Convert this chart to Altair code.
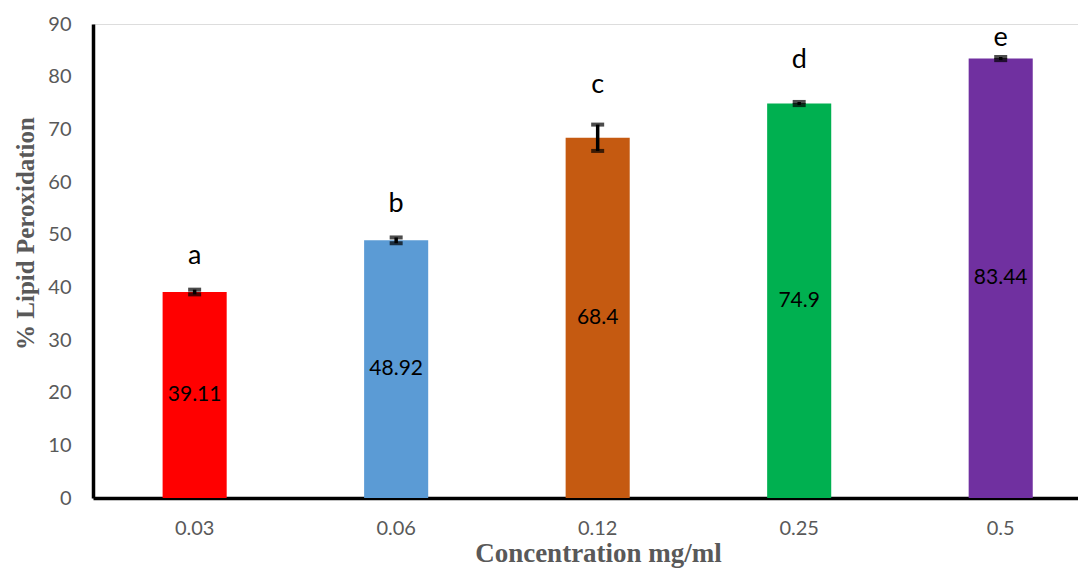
import altair as alt
import pandas as pd

conc = ["0.03", "0.06", "0.12", "0.25", "0.5"]
values = [39.11, 48.92, 68.4, 74.9, 83.44]
errors = [0.45, 0.55, 2.5, 0.3, 0.3]
letters = ["a", "b", "c", "d", "e"]
letter_y = [45.9, 55.8, 78.4, 83.2, 87.3]
colors = ["#FF0000", "#5B9BD5", "#C55A11", "#00B050", "#7030A0"]
y_ticks = [0, 10, 20, 30, 40, 50, 60, 70, 80, 90]

df = pd.DataFrame({
    "conc": conc,
    "value": values,
    "err": errors,
    "letter": letters,
    "ly": letter_y,
    "label": ["39.11", "48.92", "68.4", "74.9", "83.44"],
})
df["lo"] = df["value"] - df["err"]
df["hi"] = df["value"] + df["err"]
df["mid"] = df["value"] / 2

xscale = alt.Scale(domain=conc, paddingInner=0.682, paddingOuter=0.285, align=0.606)
yscale = alt.Scale(domain=[0, 90], nice=False)

x_enc = alt.X("conc:N", sort=conc, scale=xscale, title="Concentration mg/ml",
              axis=alt.Axis(labelAngle=0, ticks=False, labelPadding=20,
                            labelFont="Lato", labelFontSize=20, labelColor="#595959",
                            domainColor="#000000", domainWidth=3.5,
                            titleFont="Liberation Serif", titleFontWeight="bold",
                            titleFontSize=27, titleColor="#595959",
                            titleX=505, titleY=63, titleBaseline="alphabetic",
                            titleAlign="center"))

base = alt.Chart(df)

bars = base.mark_bar().encode(
    x=x_enc,
    y=alt.Y("value:Q", scale=yscale, title="% Lipid Peroxidation",
            axis=alt.Axis(values=y_ticks, ticks=False, grid=False, labelPadding=22,
                          labelFont="Lato", labelFontSize=20, labelColor="#595959",
                          domainColor="#000000", domainWidth=3.5,
                          titleFont="Liberation Serif", titleFontWeight="bold",
                          titleFontSize=25, titleColor="#595959",
                          titleX=-68, titleY=209, titleAngle=270,
                          titleBaseline="middle", titleAlign="center")),
    color=alt.Color("conc:N", sort=conc, scale=alt.Scale(domain=conc, range=colors), legend=None),
)

err_rule = base.mark_rule(color="black", strokeWidth=3.5).encode(
    x=alt.X("conc:N", sort=conc, scale=xscale),
    y=alt.Y("lo:Q", scale=yscale),
    y2="hi:Q",
)
cap_hi = base.mark_tick(color="black", size=13, thickness=4).encode(
    x=alt.X("conc:N", sort=conc, scale=xscale),
    y=alt.Y("hi:Q", scale=yscale),
)
cap_lo = base.mark_tick(color="black", size=13, thickness=4).encode(
    x=alt.X("conc:N", sort=conc, scale=xscale),
    y=alt.Y("lo:Q", scale=yscale),
)

val_text = base.mark_text(font="Lato", fontSize=21, color="black", baseline="middle").encode(
    x=alt.X("conc:N", sort=conc, scale=xscale),
    y=alt.Y("mid:Q", scale=yscale),
    text="label:N",
)

let_text = base.mark_text(font="Lato", fontSize=27, color="black", baseline="middle").encode(
    x=alt.X("conc:N", sort=conc, scale=xscale),
    y=alt.Y("ly:Q", scale=yscale),
    text="letter:N",
)

chart = alt.layer(bars, err_rule, cap_hi, cap_lo, val_text, let_text).properties(
    width=985,
    height=474,
    autosize=alt.AutoSizeParams(type="none"),
    padding={"left": 85, "top": 16, "right": 0, "bottom": 72},
).configure_view(stroke=None).configure(background="white")

chart.save("out.html", embed_options={"renderer": "svg", "actions": False})
